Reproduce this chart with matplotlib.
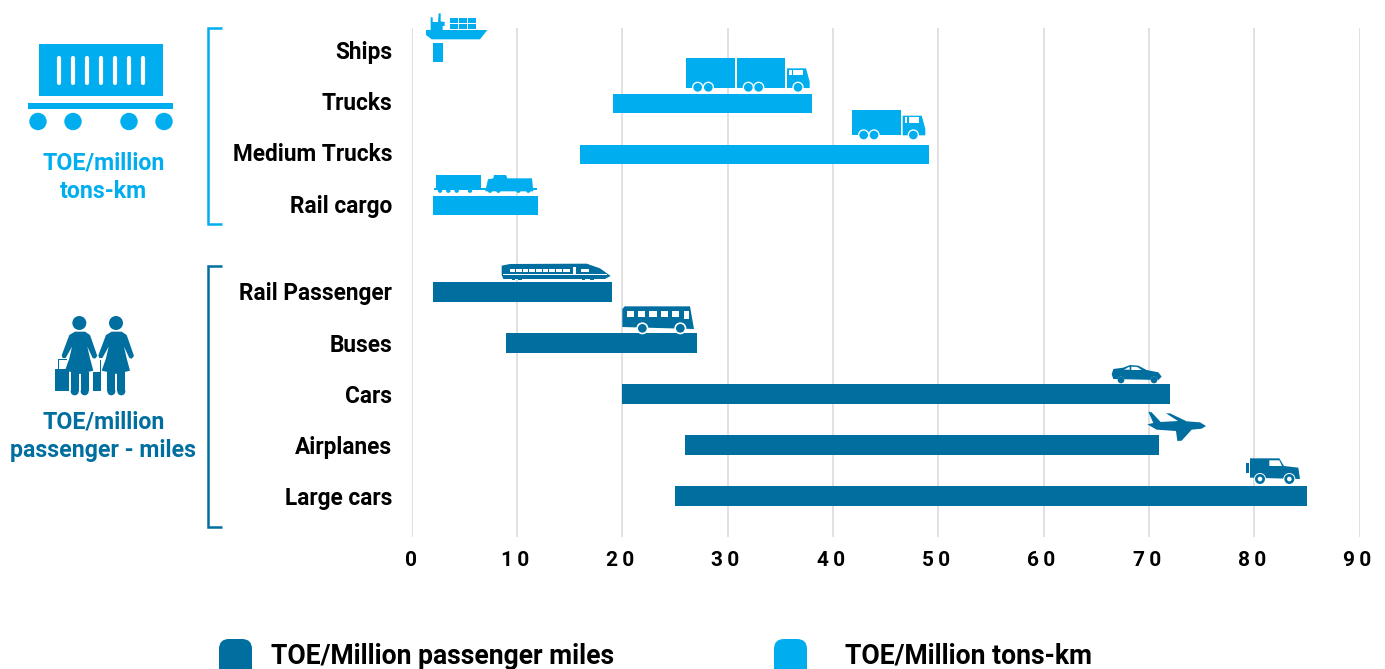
import matplotlib
matplotlib.use('Agg')
import matplotlib.pyplot as plt
from matplotlib.patches import Polygon, Rectangle, Circle, FancyBboxPatch
from matplotlib.transforms import ScaledTranslation

plt.rcParams['font.family'] = ['Roboto', 'DejaVu Sans']
plt.rcParams['font.weight'] = 'bold'

# data
cargo_names = ['Ships', 'Trucks', 'Medium Trucks', 'Rail cargo']
cargo_low = [2, 19.1, 16, 2]
cargo_high = [3, 38, 49.1, 12]

passenger_names = ['Rail Passenger', 'Buses', 'Cars', 'Airplanes', 'Large cars']
passenger_low = [2, 9, 20, 26, 25]
passenger_high = [19, 27.1, 72, 71, 85]

x_ticks = [0, 10, 20, 30, 40, 50, 60, 70, 80, 90]
legend_names = ['TOE/Million passenger miles', 'TOE/Million tons-km']

LIGHT = '#00AEEF'
DARK = '#006FA0'
W, H = 1385, 669

fig = plt.figure(figsize=(W / 100, H / 100), dpi=100, facecolor='white')

ax = fig.add_axes([411.5 / W, (H - 537) / H, 948 / W, 509 / H])
cargo_y = [0, 1, 2, 3]
passenger_y = [4.7, 5.7, 6.7, 7.7, 8.7]
ax.barh(cargo_y, [h - l for l, h in zip(cargo_low, cargo_high)], left=cargo_low,
        height=0.39, color=LIGHT, zorder=3)
ax.barh(passenger_y, [h - l for l, h in zip(passenger_low, passenger_high)], left=passenger_low,
        height=0.39, color=DARK, zorder=3)
ax.set_xlim(0, 90)
ax.set_ylim(9.5, -0.48)
ax.set_yticks(cargo_y + passenger_y, cargo_names + passenger_names, fontsize=16.3, color='black')
# the digits are tracked out, the trailing space keeps them left of the grid line like the original
ax.set_xticks(x_ticks, ['\u2009'.join(str(t)) + ('\u2009' if t else '') for t in x_ticks], fontsize=15, color='black')
ax.tick_params(axis='both', length=0)
ax.tick_params(axis='y', pad=14)
ax.tick_params(axis='x', pad=10)
ax.grid(axis='x', color='#dcdcdc', linewidth=1.2)
ax.set_axisbelow(True)
for s in ax.spines.values():
    s.set_visible(False)

# labels sit a little above their bars
label_lift = [2.5, 2.5, 2.5, 1.5, 1.5, 0.5, 0.5, 0.5, 0]
for lab, lift in zip(ax.get_yticklabels(), label_lift):
    lab.set_transform(lab.get_transform() + ScaledTranslation(0, lift / 100, fig.dpi_scale_trans))

# overlay in pixel coordinates for the icons and side labels
ov = fig.add_axes([0, 0, 1, 1], facecolor='none')
ov.set_xlim(0, W)
ov.set_ylim(H, 0)
ov.axis('off')


def zpoly(pts, ox, oy, color):
    ov.add_patch(Polygon([(ox + x / 3, oy + y / 3) for x, y in pts], closed=True, fc=color, ec='none', zorder=5))


def zrect(x0, y0, x1, y1, ox, oy, color):
    ov.add_patch(Rectangle((ox + x0 / 3, oy + y0 / 3), (x1 - x0) / 3, (y1 - y0) / 3, fc=color, ec='none', zorder=5))


def zwheel(x, y, r, ox, oy, color, ring=2.5):
    ov.add_patch(Circle((ox + x / 3, oy + y / 3), (r + ring) / 3, fc='white', ec='none', zorder=6))
    ov.add_patch(Circle((ox + x / 3, oy + y / 3), r / 3, fc=color, ec='none', zorder=7))


def bracket(y0, y1, color):
    ov.plot([222, 208, 208, 222], [y0, y0, y1, y1], color=color, lw=1.8, solid_joinstyle='miter', solid_capstyle='butt')


bracket(28, 224, LIGHT)
bracket(266, 527, DARK)

ov.text(103.5, 163, 'TOE/million', color=LIGHT, fontsize=16.7, ha='center', va='center')
ov.text(103.5, 191, 'tons-km', color=LIGHT, fontsize=16.7, ha='center', va='center')
ov.text(103.5, 422, 'TOE/million', color=DARK, fontsize=16.7, ha='center', va='center')
ov.text(103.5, 450, 'passenger - miles', color=DARK, fontsize=16.7, ha='center', va='center')

# container
ov.add_patch(Rectangle((39, 44), 124, 52, fc=LIGHT, ec='none'))
for sx in [59, 73, 87, 101, 115, 129, 143]:
    ov.plot([sx, sx], [58, 83], color='white', lw=3, solid_capstyle='round')
ov.add_patch(Rectangle((28, 103), 145, 6, fc=LIGHT, ec='none'))
for cx in [38, 73, 129, 164]:
    ov.add_patch(Circle((cx, 121.5), 8.7, fc=LIGHT, ec='none'))


# travellers
def person(dx):
    ov.add_patch(Circle((116 + dx / 3, 323), 7, fc=DARK, ec='none', zorder=5))
    pts = [(335, 245), (365, 245), (380, 255), (402, 318), (395, 326), (388, 324), (372, 290), (380, 325), (390, 362),
           (350, 372), (305, 362), (318, 325), (326, 290), (307, 324), (298, 324), (295, 316), (318, 255)]
    zpoly([(x + dx, y) for x, y in pts], 0, 250, DARK)
    zrect(322 + dx, 366, 346 + dx, 424, 0, 250, DARK)
    zrect(352 + dx, 366, 376 + dx, 424, 0, 250, DARK)
    for lx in [334, 364]:
        ov.add_patch(Circle(((lx + dx) / 3, 250 + 424 / 3), 4, fc=DARK, ec='none', zorder=5))


person(-110)
person(0)
zrect(166, 358, 207, 424, 0, 250, DARK)
zrect(175, 327, 178, 360, 0, 250, DARK)
zrect(175, 327, 200, 330, 0, 250, DARK)
zrect(278, 365, 303, 424, 0, 250, DARK)
zrect(299, 330, 302, 366, 0, 250, DARK)

# ship
zpoly([(18, 90), (202, 90), (180, 118), (35, 118), (18, 105)], 420, 0, LIGHT)
zpoly([(32, 90), (32, 52), (38, 52), (38, 66), (54, 66), (56, 40), (62, 40), (62, 64), (74, 66), (74, 78), (68, 78), (68, 90)],
      420, 0, LIGHT)
for cx in [90, 117, 144]:
    for cy in [54, 72]:
        zrect(cx, cy, cx + 24, cy + 16, 420, 0, LIGHT)


# trucks
def cab_wheels(cab_dx, cab_dy, wheels):
    zpoly([(1101, 205), (1158, 205), (1169, 245), (1169, 264), (1101, 264)],
          420 + cab_dx / 3, cab_dy / 3, LIGHT)
    zrect(1120, 210, 1150, 226, 420 + cab_dx / 3, cab_dy / 3, 'white')
    zrect(1107, 210, 1115, 226, 420 + cab_dx / 3, cab_dy / 3, 'white')
    for wx, wy in wheels:
        zwheel(wx, wy, 13, 420, 0, LIGHT, ring=4)


zrect(799, 175, 944, 264, 420, 0, LIGHT)
zrect(951, 175, 1096, 264, 420, 0, LIGHT)
cab_wheels(0, 0, [(833, 262), (865, 262), (985, 262), (1016, 262), (1134, 262)])
zrect(1297, 330, 1442, 406, 420, 0, LIGHT)
cab_wheels(347, 142, [(1331, 405), (1362, 405), (1480, 405)])

# cargo train
zrect(48, 525, 182, 566, 420, 0, LIGHT)
zrect(42, 564, 350, 570, 420, 0, LIGHT)
zpoly([(196, 574), (204, 538), (220, 535), (222, 525), (258, 525), (262, 535), (336, 535), (340, 574)], 420, 0, LIGHT)
for wx in [60, 85, 110, 150, 210, 235, 295, 325]:
    ov.add_patch(Circle((420 + wx / 3, 572 / 3), 2.2, fc=LIGHT, ec='none', zorder=5))

# passenger train
zpoly([(35, 32), (60, 27), (290, 26), (330, 40), (362, 63), (345, 72), (40, 72), (35, 60)], 490, 255, DARK)
zrect(40, 57, 350, 60, 490, 255, 'white')
zrect(60, 42, 240, 51, 490, 255, 'white')
for wx in [75, 95, 115, 135, 155, 175, 195, 215]:
    zrect(wx, 42, wx + 3, 51, 490, 255, DARK)
zrect(248, 36, 258, 58, 490, 255, 'white')
zrect(272, 42, 298, 51, 490, 255, 'white')
for wx in [70, 90, 280, 306]:
    zrect(wx - 5, 70, wx + 5, 76, 490, 255, DARK)

# bus
zpoly([(397, 162), (404, 154), (600, 154), (612, 222), (397, 216)], 490, 255, DARK)
for wx in [410, 444, 478, 512, 546]:
    zrect(wx, 168, wx + 22, 186, 490, 255, 'white')
zrect(582, 168, 597, 192, 490, 255, 'white')
zwheel(457, 220, 13, 490, 255, DARK, ring=5)
zwheel(571, 220, 13, 490, 255, DARK, ring=5)

# car
zpoly([(65, 58), (70, 42), (100, 38), (120, 30), (145, 32), (170, 45), (205, 52), (215, 65), (205, 75), (70, 72)],
      1090, 355, DARK)
zpoly([(102, 44), (118, 35), (120, 44)], 1090, 355, 'white')
zpoly([(124, 35), (142, 36), (155, 45), (124, 45)], 1090, 355, 'white')
zwheel(93, 75, 10, 1090, 355, DARK, ring=0)
zwheel(192, 75, 10, 1090, 355, DARK, ring=0)

# plane
zpoly([(172, 208), (190, 204), (175, 170), (185, 172), (212, 201), (264, 198), (228, 175), (240, 175), (290, 199),
       (330, 202), (348, 213), (335, 221), (305, 224), (275, 257), (262, 258), (258, 228), (200, 224)],
      1090, 355, DARK)

# jeep
zpoly([(480, 310), (568, 310), (582, 333), (625, 338), (630, 372), (480, 368)], 1090, 355, DARK)
zrect(468, 325, 477, 355, 1090, 355, DARK)
zpoly([(538, 316), (568, 316), (576, 333), (538, 333)], 1090, 355, 'white')
for wx in [510, 598]:
    zwheel(wx, 372, 15, 1090, 355, DARK, ring=3)
    ov.add_patch(Circle((1090 + wx / 3, 355 + 372 / 3), 2.3, fc='white', ec='none', zorder=8))

# legend swatches run off the bottom edge
for x0, col, name, tx in zip([219, 774], [DARK, LIGHT], legend_names, [271, 845]):
    ov.add_patch(FancyBboxPatch((x0 + 8, 647), 17, 40, boxstyle='round,pad=8,rounding_size=10', fc=col, ec='none'))
    ov.text(tx, 656, name, color='black', fontsize=19.1, ha='left', va='center')

fig.savefig('out.png', dpi=100)
